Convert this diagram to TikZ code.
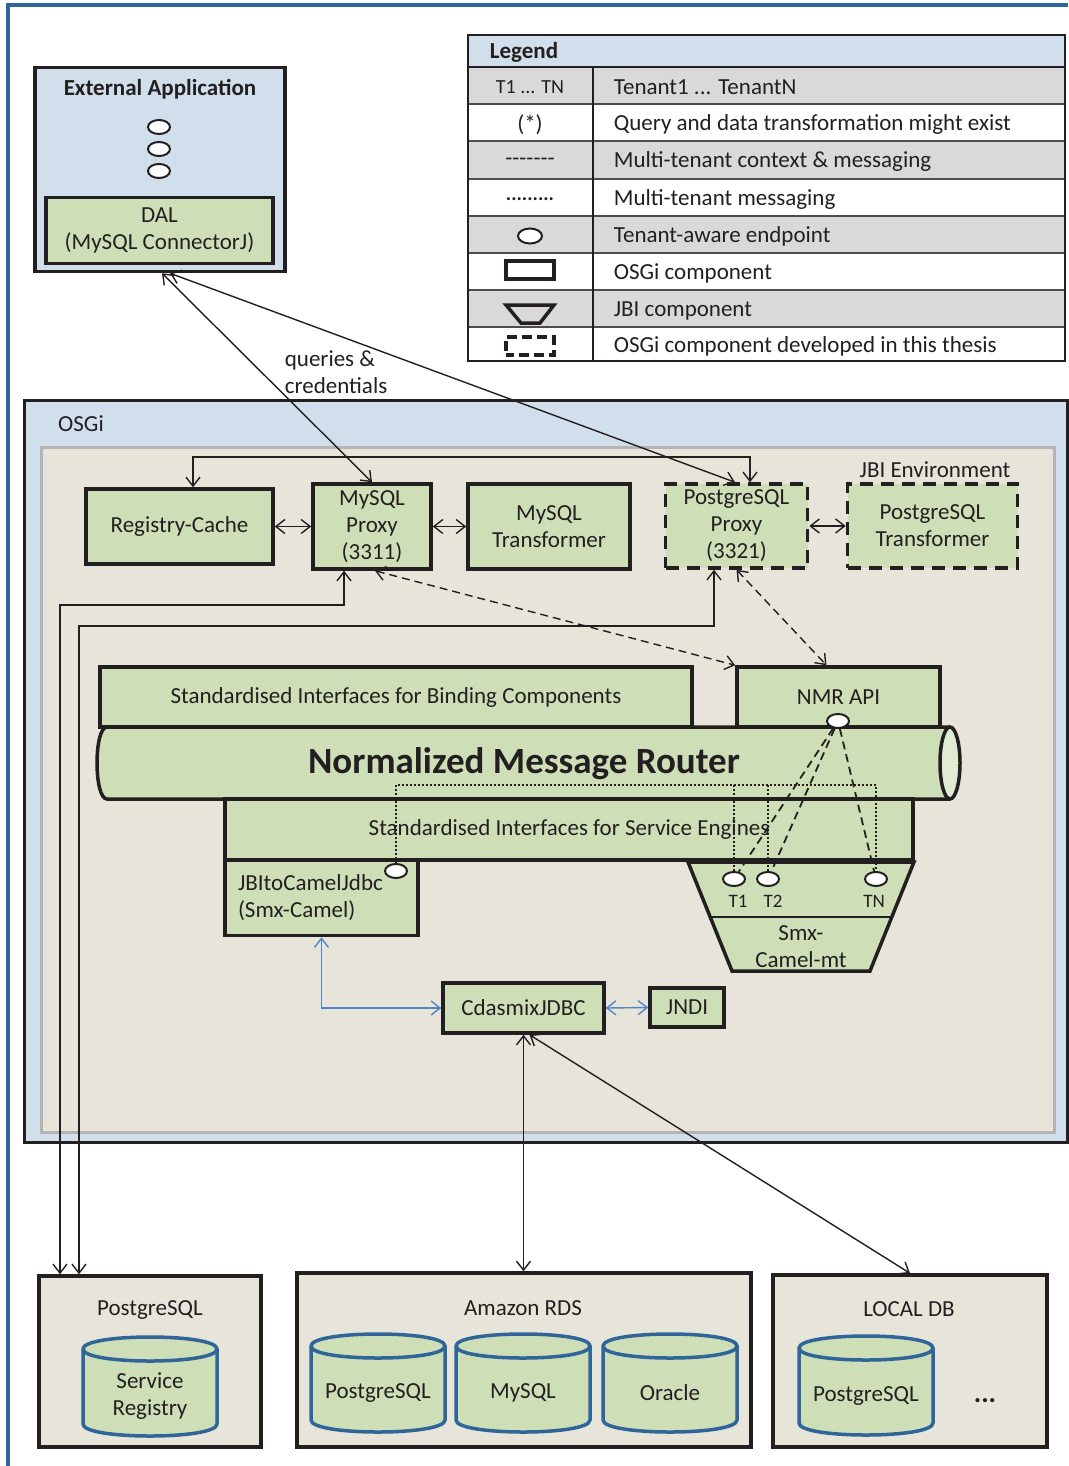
\documentclass[tikz,border=0pt]{standalone}
\usepackage{fontspec}
\setmainfont{Carlito}
\usetikzlibrary{arrows.meta,shapes.geometric}
\definecolor{grn}{HTML}{CEDFB8}
\definecolor{grnl}{HTML}{E0EBD3}
\definecolor{lblue}{HTML}{D1DEEB}
\definecolor{beige}{HTML}{E7E5DA}
\definecolor{gborder}{HTML}{B4B4B4}
\definecolor{dblue}{HTML}{2F6599}
\definecolor{lgray}{HTML}{D9D9D9}
\definecolor{txt}{HTML}{231F20}
\definecolor{cblue}{HTML}{4F86C6}
\tikzset{
  gbox/.style={draw=txt, line width=3.5pt, fill=grn, align=center, inner sep=0pt},
  dgbox/.style={gbox, dash pattern=on 13pt off 8pt},
  plainbox/.style={draw=txt, line width=3.5pt, inner sep=0pt},
  ep/.style={ellipse, draw=txt, line width=2pt, fill=white, minimum width=22pt, minimum height=14pt, inner sep=0pt},
  conn/.style={draw=txt, line width=1.4pt, <->},
  dconn/.style={conn, dash pattern=on 8pt off 5pt},
  bconn/.style={draw=cblue, line width=1.4pt, <->},
  dotl/.style={draw=txt, line width=1.6pt, dash pattern=on 1.6pt off 2.4pt},
  dashl/.style={draw=txt, line width=1.8pt, dash pattern=on 8pt off 5pt},
}
\newcommand\dbcyl[5]{%
 \filldraw[fill=grn, draw=dblue, line width=3.5pt] ({#2-67},{#3+12}) -- ({#2-67},{#4-12}) .. controls ({#2-67},{#4+4}) and ({#2+67},{#4+4}) .. ({#2+67},{#4-12}) -- ({#2+67},{#3+12}) .. controls ({#2+67},{#3-4}) and ({#2-67},{#3-4}) .. ({#2-67},{#3+12}) -- cycle;
 \draw[dblue, line width=3.5pt] ({#2-67},{#3+12}) .. controls ({#2-67},{#3+28}) and ({#2+67},{#3+28}) .. ({#2+67},{#3+12});
 \node[align=center] (#1) at ({#2},{(#3+#4)/2+10}) {#5};
}
\begin{document}
\fontsize{23}{27}\selectfont
\begin{tikzpicture}[x=1pt,y=-1pt, >={Straight Barb[length=9pt,width=14pt]}, every node/.style={text=txt}]
\useasboundingbox (0,0) rectangle (1068,1466);
\fill[white] (0,0) rectangle (1068,1466);
\draw[dblue, line width=4pt] (8,1466) -- (8,5) -- (1068,5);

% External application
\node[plainbox, fill=lblue, minimum width=250pt, minimum height=204pt] (ext) at (160,169.5) {};
\node[font=\bfseries] (extt) at (160,89.5) {External Application};
\node[ep] (x1) at (159,127) {};
\node[ep] (x2) at (159,149) {};
\node[ep] (x3) at (159,171) {};
\node[gbox, minimum width=227pt, minimum height=66pt] (dal) at (159.5,230.5) {DAL\\(MySQL ConnectorJ)};

% Legend
\fill[lblue] (468,35) rectangle (1065,67);
\foreach \a/\b in {67/104,141/179,216/253,290/327} \fill[lgray] (468,\a) rectangle (1065,\b);
\foreach \yy in {104,141,179,216,253,290,327} \draw[txt!80, line width=1.8pt] (468,\yy) -- (1065,\yy);
\draw[txt, line width=2.5pt] (468,67) -- (1065,67);
\draw[txt, line width=2pt] (593,67) -- (593,361);
\draw[txt, line width=2pt] (468,35) rectangle (1065,361);
\node[font=\bfseries, anchor=west] (lg) at (482,52.5) {Legend};
\node[font=\fontsize{20}{24}\selectfont] (s1) at (530,87.5) {T1 ... TN};
\node (s2) at (530,124.5) {(*)};
\node (s3) at (530,161.5) {-{}-{}-{}-{}-{}-{}-};
\node[font=\fontsize{20}{24}\selectfont\bfseries] (s4) at (530,199) {.........};
\node[ep, minimum width=24pt, minimum height=15pt] (s5) at (530,236) {};
\node[plainbox, minimum width=48pt, minimum height=18pt] (s6) at (530,270) {};
\draw[txt, line width=3.5pt] (506,305) -- (554,305) -- (540,323) -- (521,323) -- cycle;
\node[plainbox, dash pattern=on 10pt off 5pt, dash phase=2pt, minimum width=48pt, minimum height=18pt] (s8) at (530,346) {};
\node[anchor=west] (d1) at (606,87.5) {Tenant1 ... TenantN};
\node[anchor=west] (d2) at (606,124.5) {Query and data transformation might exist};
\node[anchor=west] (d3) at (606,161.5) {Multi-tenant context \& messaging};
\node[anchor=west] (d4) at (606,199.5) {Multi-tenant messaging};
\node[anchor=west] (d5) at (606,236.5) {Tenant-aware endpoint};
\node[anchor=west] (d6) at (606,273.5) {OSGi component};
\node[anchor=west] (d7) at (606,310.5) {JBI component};
\node[anchor=west] (d8) at (606,346.5) {OSGi component developed in this thesis};

\node[align=left, anchor=west] (ql) at (277,372) {queries \&\\credentials};

% OSGi container
\node[plainbox, line width=3pt, fill=lblue, minimum width=1043pt, minimum height=742pt] (osgi) at (545.5,771) {};
\node (osgil) at (81,423.5) {OSGi};
\node[draw=gborder, line width=3pt, fill=beige, minimum width=1013pt, minimum height=685pt, inner sep=0pt] (jbienv) at (547.5,789.5) {};
\node (jbil) at (935,469.5) {JBI Environment};

\node[gbox, minimum width=187pt, minimum height=75pt] (reg) at (179.5,526.5) {Registry-Cache};
\node[gbox, minimum width=118pt, minimum height=85pt] (mp) at (372,526.5) {MySQL\\Proxy\\(3311)};
\node[gbox, minimum width=162pt, minimum height=85pt] (mt) at (549,526.5) {MySQL\\Transformer};
\node[dgbox, minimum width=142pt, minimum height=84pt] (pp) at (736.5,526) {PostgreSQL\\Proxy\\(3321)};
\node[dgbox, minimum width=170pt, minimum height=84pt] (pt) at (932.5,526) {PostgreSQL\\Transformer};

% NMR
\node[gbox, minimum width=592pt, minimum height=60pt] (bind) at (396,697) {Standardised Interfaces for Binding Components};
\node[gbox, minimum width=203pt, minimum height=60pt] (nmrapi) at (838.5,697) {NMR API};
\filldraw[fill=grn, draw=txt, line width=3.5pt] (950,727) -- (107,727) .. controls (93.7,727) and (93.7,799) .. (107,799) -- (950,799);
\filldraw[fill=grnl, draw=txt, line width=3.5pt] (950,763) ellipse [x radius=10pt, y radius=36pt];
\node[font=\fontsize{37}{40}\selectfont\bfseries] (nmr) at (524,764) {Normalized Message Router};

\node[gbox, minimum width=688pt, minimum height=61pt] (seng) at (569,829.5) {Standardised Interfaces for Service Engines};
\node[gbox, minimum width=193pt, minimum height=75pt, align=left, text width=167pt, inner xsep=13pt] (jb) at (321.5,898) {JBItoCamelJdbc\\(Smx-Camel)};

\filldraw[fill=grn, draw=txt, line width=3.5pt, line join=miter] (688,862) -- (914,862) -- (870,971) -- (732,971) -- cycle;
\draw[txt, line width=1.5pt] (711,917) -- (892,917);
\node[align=center] (smx) at (801,946.5) {Smx-\\Camel-mt};

\node[ep] (nmre) at (838,721) {};
\node[ep] (jbe) at (396,871) {};
\node[ep] (t1) at (734,879) {};
\node[ep] (t2) at (768,879) {};
\node[ep] (tn) at (876,879) {};
\node[font=\fontsize{19}{22}\selectfont] (t1l) at (738,901) {T1};
\node[font=\fontsize{19}{22}\selectfont] (t2l) at (773,901) {T2};
\node[font=\fontsize{19}{22}\selectfont] (tnl) at (874,901) {TN};

\coordinate (dtop) at (0,785);
\draw[dotl] (jbe.north) -- (jbe.north |- dtop) -- (tn.north |- dtop) -- (tn.north);
\draw[dotl] (t1.north |- dtop) -- (t1.north);
\draw[dotl] (t2.north |- dtop) -- (t2.north);
\draw[dashl] (nmre) -- (t1);
\draw[dashl] (nmre) -- (t2);
\draw[dashl] (nmre) -- (tn);

\node[gbox, minimum width=161pt, minimum height=50pt] (cd) at (523.5,1008) {CdasmixJDBC};
\node[gbox, minimum width=74pt, minimum height=39pt] (jndi) at (687,1007.5) {JNDI};
\draw[bconn] (jb.south) |- (cd.west);
\draw[bconn] (cd.east) -- (jndi.west);

% Bottom databases
\node[plainbox, fill=beige, minimum width=222pt, minimum height=171pt] (pgb) at (150,1361.5) {};
\node[plainbox, fill=beige, minimum width=454pt, minimum height=174pt] (amz) at (524,1360) {};
\node[plainbox, fill=beige, minimum width=274pt, minimum height=172pt] (loc) at (910,1361) {};
\node (pgbt) at (150,1310) {PostgreSQL};
\node (amzt) at (523,1308) {Amazon RDS};
\node (loct) at (909,1309) {LOCAL DB};
\dbcyl{c1}{150}{1337}{1436}{Service\\Registry}
\dbcyl{c2}{378}{1334}{1432}{PostgreSQL}
\dbcyl{c3}{523}{1334}{1432}{MySQL}
\dbcyl{c4}{670}{1334}{1432}{Oracle}
\dbcyl{c5}{866}{1336}{1435}{PostgreSQL}
\node[font=\fontsize{28}{30}\selectfont\bfseries] (dots) at (985,1401) {...};

% Connectors
\draw[conn] ([xshift=2pt]ext.south) -- (mp.north);
\draw[conn] ([xshift=10pt]ext.south) -- ([xshift=-1.5pt]pp.north);
\coordinate (regtop) at (750,457);
\draw[conn] ([xshift=13.5pt]reg.north) |- (regtop) -- (pp.north -| regtop);
\coordinate (la) at (60,605);
\draw[conn] ([xshift=-28pt]mp.south) |- (la) -- (pgb.north -| la);
\coordinate (lb) at (79,626);
\draw[conn] ([xshift=-22.5pt]pp.south) |- (lb) -- (pgb.north -| lb);
\draw[conn] (reg.east) -- (mp.west);
\draw[conn] (mp.east) -- (mt.west);
\draw[conn] (pp.east) -- (pt.west);
\draw[dconn] ([xshift=3pt]mp.south) -- (nmrapi.north west);
\draw[dconn] (pp.south) -- ([xshift=-12pt]nmrapi.north);
\draw[conn] (cd.south) -- (cd.south |- amz.north);
\draw[conn] ([xshift=6pt]cd.south) -- (loc.north);
\end{tikzpicture}
\end{document}
